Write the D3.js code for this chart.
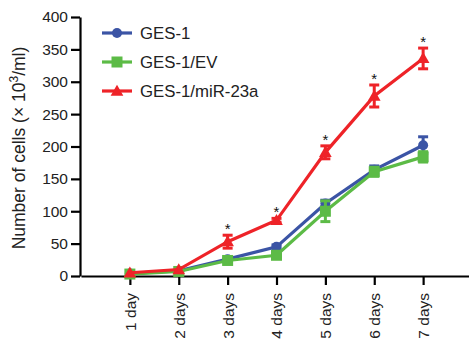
<!DOCTYPE html>
<html>
<head>
<meta charset="utf-8">
<script src="https://cdn.jsdelivr.net/npm/d3@7"></script>
<style>
  body { margin: 0; background: #fff; }
  svg { display: block; font-family: "Liberation Sans", Arial, sans-serif; }
</style>
</head>
<body>
<svg id="chart"></svg>
<script>
const WIDTH = 469, HEIGHT = 346;

// data
const days = ["1 day", "2 days", "3 days", "4 days", "5 days", "6 days", "7 days"];
const yTicks = [0, 50, 100, 150, 200, 250, 300, 350, 400];
const ges1 = [4, 8, 26, 45, 112, 164, 202];
const ges1Err = [1, 1, 2, 3, 5, 6, 13];
const ges1EV = [3, 7, 24, 32, 100, 161, 184];
const ges1EVErr = [1, 1, 2, 3, 16, 7, 8];
const mir23a = [5, 10, 53, 86, 191, 278, 336];
const mir23aErr = [1, 1, 10, 3, 10, 17, 16];
const significant = [false, false, true, true, true, true, true];

const series = [
  {name: "GES-1", values: ges1, err: ges1Err, color: "#3b54a5", shape: "circle"},
  {name: "GES-1/EV", values: ges1EV, err: ges1EVErr, color: "#5cbb46", shape: "square"},
  {name: "GES-1/miR-23a", values: mir23a, err: mir23aErr, color: "#ee2328", shape: "triangle"}
];

const svg = d3.select("#chart").attr("width", WIDTH).attr("height", HEIGHT);

const x = d3.scaleLinear().domain([0, 8]).range([81, 472]);
const y = d3.scaleLinear().domain([0, 400]).range([276, 17]);

// y axis
const yAxis = svg.append("g")
    .attr("transform", "translate(80,0)")
    .call(d3.axisLeft(y).tickValues(yTicks).tickSize(9).tickPadding(3).tickSizeOuter(0));
yAxis.select(".domain").attr("stroke-width", 2.2);
yAxis.selectAll(".tick line").attr("stroke-width", 2.2);
yAxis.selectAll("text").attr("font-size", 15.5).attr("fill", "#222").attr("font-family", "Liberation Sans, Arial, sans-serif");

// x axis
const xAxis = svg.append("g")
    .attr("transform", "translate(0,276)")
    .call(d3.axisBottom(x).tickValues(d3.range(1, 8)).tickFormat(i => days[i - 1])
      .tickSize(9).tickSizeOuter(0));
xAxis.select(".domain").attr("stroke-width", 2.2);
xAxis.selectAll(".tick line").attr("stroke-width", 2.2);
xAxis.selectAll("text")
    .attr("font-size", 15.5).attr("fill", "#222").attr("font-family", "Liberation Sans, Arial, sans-serif")
    .attr("transform", "rotate(-90)")
    .attr("text-anchor", "end")
    .attr("x", -17).attr("y", 0).attr("dy", "0.35em");

// y label
svg.append("text")
    .attr("transform", "translate(25,148) rotate(-90)")
    .attr("text-anchor", "middle")
    .attr("font-size", 17.5)
    .attr("fill", "#222")
    .html('Number of cells (× 10<tspan dy="-7" font-size="12">3</tspan><tspan dy="7">/ml)</tspan>');

function marker(g, shape, color, cx, cy) {
  if (shape === "circle") {
    g.append("circle").attr("cx", cx).attr("cy", cy).attr("r", 5).attr("fill", color);
  } else if (shape === "square") {
    g.append("rect").attr("x", cx - 5.5).attr("y", cy - 5.5).attr("width", 11).attr("height", 11).attr("fill", color);
  } else {
    g.append("path").attr("d", d3.symbol(d3.symbolTriangle, 70)()).attr("transform", `translate(${cx},${cy + 1})`).attr("fill", color);
  }
}

const line = d3.line().x((d, i) => x(i + 1)).y(d => y(d));

series.forEach(s => {
  const g = svg.append("g");
  g.append("path")
      .attr("d", line(s.values))
      .attr("fill", "none")
      .attr("stroke", s.color)
      .attr("stroke-width", 3.2);
  s.values.forEach((v, i) => {
    const cx = x(i + 1);
    const e = s.err[i];
    if (e > 1.5) {
      g.append("line").attr("x1", cx).attr("x2", cx).attr("y1", y(v - e)).attr("y2", y(v + e))
          .attr("stroke", s.color).attr("stroke-width", 3);
      [v - e, v + e].forEach(t => {
        g.append("line").attr("x1", cx - 5).attr("x2", cx + 5).attr("y1", y(t)).attr("y2", y(t))
            .attr("stroke", s.color).attr("stroke-width", 3);
      });
    }
    marker(g, s.shape, s.color, cx, y(v));
  });
});

// significance stars above red series
mir23a.forEach((v, i) => {
  if (!significant[i]) return;
  svg.append("text")
      .attr("x", x(i + 1))
      .attr("y", y(v + mir23aErr[i]) - 1)
      .attr("text-anchor", "middle")
      .attr("font-size", 15)
      .attr("fill", "#111")
      .text("*");
});

// legend
const legend = svg.append("g");
series.forEach((s, i) => {
  const ly = 33 + i * 29;
  legend.append("line").attr("x1", 102).attr("x2", 132).attr("y1", ly).attr("y2", ly)
      .attr("stroke", s.color).attr("stroke-width", 3.2);
  marker(legend, s.shape, s.color, 117, ly);
  legend.append("text").attr("x", 140).attr("y", ly).attr("dy", "0.35em")
      .attr("font-size", 16.8).attr("fill", "#222").text(s.name);
});
</script>
</body>
</html>
